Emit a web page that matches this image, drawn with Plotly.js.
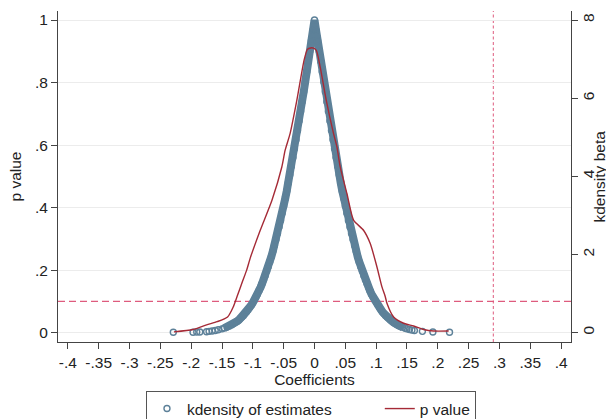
<!DOCTYPE html>
<html>
<head>
<meta charset="utf-8">
<script src="https://cdn.plot.ly/plotly-3.0.1.min.js"></script>
<style>html,body{margin:0;padding:0;background:#fff;}#chart{width:606px;height:419px;}</style>
</head>
<body>
<div id="chart"></div>
<script>
// Placebo coefficient estimates and their p values
var estCoef = [
  -0.229,-0.197,-0.191,-0.186,-0.175,-0.171,-0.166,-0.161,-0.156,-0.150,-0.146,-0.142,-0.138,-0.134,-0.131,-0.128,-0.125,-0.1225,
  -0.12,-0.1175,-0.115,-0.1125,-0.11,-0.1075,-0.105,-0.1025,-0.1,-0.0975,-0.095,-0.0925,-0.09,-0.0875,-0.085,-0.0825,-0.08,-0.0775,
  -0.075,-0.0725,-0.07,-0.0675,-0.065,-0.0625,-0.06,-0.0575,-0.055,-0.0525,-0.05,-0.0475,-0.045,-0.0425,-0.04,-0.0375,-0.035,-0.0325,
  -0.03,-0.0275,-0.025,-0.0225,-0.02,-0.0175,-0.015,-0.0125,-0.01,-0.0075,-0.005,-0.0025,
  0,
  0.0025,0.005,0.0075,0.01,0.0125,0.015,0.0175,0.02,0.0225,0.025,0.0275,0.03,0.0325,0.035,0.0375,0.04,0.0425,0.045,0.0475,
  0.05,0.0525,0.055,0.0575,0.06,0.0625,0.065,0.0675,0.07,0.0725,0.075,0.0775,0.08,0.0825,0.085,0.0875,0.09,0.0925,0.095,0.0975,
  0.1,0.1025,0.105,0.1075,0.11,0.1125,0.115,0.1175,0.12,
  0.1225,0.125,0.128,0.131,0.134,0.137,0.140,0.143,0.147,0.150,0.154,0.158,0.162,0.175,0.192,0.219
];
var estP = [
  0.001,0.001,0.002,0.002,0.003,0.004,0.005,0.007,0.009,0.012,0.015,0.018,0.021,0.025,0.029,0.033,0.037,0.041,
  0.046,0.050,0.055,0.061,0.067,0.073,0.080,0.088,0.096,0.104,0.113,0.123,0.134,0.145,0.157,0.169,0.182,0.197,
  0.211,0.227,0.243,0.261,0.279,0.298,0.317,0.338,0.359,0.382,0.405,0.429,0.453,0.479,0.505,0.532,0.560,0.588,
  0.617,0.647,0.677,0.708,0.739,0.771,0.803,0.835,0.868,0.901,0.934,0.967,
  1.000,
  0.967,0.934,0.901,0.868,0.835,0.803,0.771,0.739,0.708,0.677,0.647,0.617,0.588,0.560,0.532,0.505,0.479,0.453,0.429,
  0.405,0.382,0.359,0.338,0.317,0.298,0.279,0.261,0.243,0.227,0.211,0.197,0.182,0.169,0.157,0.145,0.134,0.123,0.113,0.104,
  0.096,0.088,0.080,0.073,0.067,0.061,0.055,0.050,0.046,
  0.041,0.037,0.033,0.029,0.025,0.022,0.020,0.017,0.014,0.012,0.010,0.008,0.007,0.004,0.002,0.001
];
// Kernel density of the estimates (right axis)
var kdX = [-0.228,-0.197,-0.175,-0.158,-0.141,-0.132,-0.125,-0.117,-0.110,-0.104,-0.088,-0.069,-0.053,-0.0476,-0.0395,-0.0286,-0.0168,-0.0114,-0.0043,0.0027,0.0092,0.019,0.0308,0.0363,0.0417,0.0526,0.0633,0.0795,0.0904,0.1013,0.1094,0.1148,0.1175,0.1283,0.1445,0.1607,0.177,0.1932,0.2176];
var kdY = [0.02,0.08,0.20,0.28,0.40,0.65,0.95,1.30,1.60,1.92,2.62,3.39,4.24,4.67,5.10,5.95,6.98,7.25,7.29,7.23,6.80,5.95,5.10,4.76,4.24,3.56,2.88,2.62,2.28,1.68,1.17,0.92,0.75,0.40,0.24,0.17,0.08,0.04,0.04];
// Reference lines
var trueEffect = 0.29;
var pThreshold = 0.1;
// Axis ticks
var xTickVals = [-0.4,-0.35,-0.3,-0.25,-0.2,-0.15,-0.1,-0.05,0,0.05,0.1,0.15,0.2,0.25,0.3,0.35,0.4];
var xTickText = ['-.4','-.35','-.3','-.25','-.2','-.15','-.1','-.05','0','.05','.1','.15','.2','.25','.3','.35','.4'];
var yTickVals = [0,0.2,0.4,0.6,0.8,1];
var yTickText = ['0','.2','.4','.6','.8','1'];
var y2TickVals = [0,2,4,6,8];
var y2TickText = ['0','2','4','6','8'];
var seriesNames = ['kdensity of estimates', 'p value'];
var y2Title = 'kdensity beta';

var blue = '#5d8199';
var red = '#a52a36';
var pink = '#de5b7e';
var FONT = 'Liberation Sans, Arial, Helvetica, sans-serif';
var PAD = '\u00a0\u00a0\u00a0\u00a0\u00a0\u00a0\u00a0\u00a0\u00a0\u00a0';

// dense part of the scatter drawn as a band underneath the markers
var bandX = [], bandY = [];
for (var i = 0; i < estCoef.length; i++) {
  if (estP[i] >= 0.015) { bandX.push(estCoef[i]); bandY.push(estP[i]); }
}

var traces = [
  {x: bandX, y: bandY, type: 'scatter', mode: 'lines', line: {color: blue, width: 8, shape: 'linear'},
   showlegend: false, hoverinfo: 'skip', xaxis: 'x', yaxis: 'y'},
  {x: estCoef, y: estP, type: 'scatter', mode: 'markers', name: seriesNames[0] + PAD,
   marker: {symbol: 'circle-open', size: 6, color: blue, line: {width: 1.4, color: blue}},
   xaxis: 'x', yaxis: 'y'},
  {x: kdX, y: kdY, type: 'scatter', mode: 'lines', name: seriesNames[1],
   line: {color: red, width: 1.4, shape: 'spline', smoothing: 0.6}, xaxis: 'x', yaxis: 'y2'}
];

var layout = {
  width: 606, height: 419,
  margin: {l: 58, r: 35, t: 11, b: 77, autoexpand: false},
  paper_bgcolor: '#fff', plot_bgcolor: '#fff',
  font: {family: FONT, size: 15.5, color: '#222'},
  showlegend: true,
  xaxis: {
    range: [-0.416, 0.416], tickmode: 'array', tickvals: xTickVals, ticktext: xTickText,
    ticks: 'outside', ticklen: 6, tickcolor: '#444', showline: true, linecolor: '#444', linewidth: 1,
    showgrid: false, zeroline: false, tickfont: {size: 15.5},
    title: {text: 'Coefficients', font: {size: 15.5}, standoff: 0}
  },
  yaxis: {
    range: [-0.030, 1.029], tickmode: 'array', tickvals: yTickVals, ticktext: yTickText,
    ticks: 'outside', ticklen: 6, tickcolor: '#444', showline: true, linecolor: '#444', linewidth: 1,
    showgrid: true, gridcolor: '#ececec', gridwidth: 1, zeroline: false, tickfont: {size: 15.5},
    title: {text: 'p value', font: {size: 15.5}, standoff: 9}
  },
  yaxis2: {
    overlaying: 'y', side: 'right', range: [-0.24, 8.232], tickmode: 'array',
    tickvals: y2TickVals, ticktext: y2TickText, tickangle: -90, ticklabelstandoff: -3,
    ticks: 'outside', ticklen: 6, tickcolor: '#444', showline: true, linecolor: '#444', linewidth: 1,
    showgrid: false, zeroline: false, tickfont: {size: 15.5}
  },
  annotations: [
    {text: y2Title, xref: 'paper', yref: 'paper', x: 1.0, xshift: 28, y: 0.5,
     xanchor: 'center', yanchor: 'middle', textangle: -90, showarrow: false,
     font: {size: 15.5, family: FONT, color: '#222'}}
  ],
  legend: {
    orientation: 'h', x: 0.1715, xanchor: 'left', y: -0.148, yanchor: 'top',
    bordercolor: '#555', borderwidth: 1, bgcolor: '#fff',
    font: {size: 15.5}
  },
  shapes: [
    {type: 'line', xref: 'paper', x0: 0, x1: 1, yref: 'y', y0: pThreshold, y1: pThreshold,
     line: {color: pink, width: 1.2, dash: '7px,4px'}, layer: 'below'},
    {type: 'line', xref: 'x', x0: trueEffect, x1: trueEffect, yref: 'paper', y0: 0, y1: 1,
     line: {color: pink, width: 1, dash: '3px,2.5px'}, layer: 'below'}
  ]
};

Plotly.newPlot('chart', traces, layout, {displayModeBar: false, staticPlot: true});
</script>
</body>
</html>
